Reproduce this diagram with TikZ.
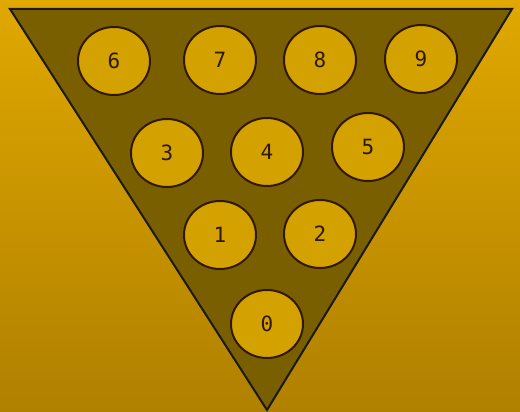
\documentclass[tikz,border=0pt]{standalone}
\usepackage{fontspec}
\newfontfamily\pinfont{DejaVu Sans Mono}
\usetikzlibrary{shapes.geometric}
\definecolor{bgtop}{HTML}{E0A800}
\definecolor{bgbottom}{HTML}{B08000}
\definecolor{rackfill}{HTML}{7A5F00}
\definecolor{pinfill}{HTML}{D4A200}
\definecolor{pinline}{HTML}{301800}
\begin{document}
\begin{tikzpicture}[
    x=1pt, y=-1pt,
    pin/.style={ellipse, draw=pinline, line width=2pt, fill=pinfill, minimum width=72pt, minimum height=68pt, inner sep=0pt, font=\pinfont\fontsize{21}{21}\selectfont, text=pinline},
    rack/.style={draw=black!90, line width=2pt, fill=rackfill, line join=miter}
]
    % Fond
    \shade[top color=bgtop, bottom color=bgbottom] (0,0) rectangle (520,412);
    \useasboundingbox (0,0) rectangle (520,412);

    % Triangle
    \coordinate (tl) at (10,9);
    \coordinate (tr) at (512,9);
    \coordinate (bot) at (267,410);
    \draw[rack] (tl) -- (tr) -- (bot) -- cycle;

    % Quilles
    \foreach \n/\px/\py in {6/114/61, 7/220/60, 8/320/60, 9/421/59,
                            3/167/153, 4/267/152, 5/368/147,
                            1/220/235, 2/320/234,
                            0/267/324}
        \node[pin] (pin\n) at (\px,\py) {\n};
\end{tikzpicture}
\end{document}
